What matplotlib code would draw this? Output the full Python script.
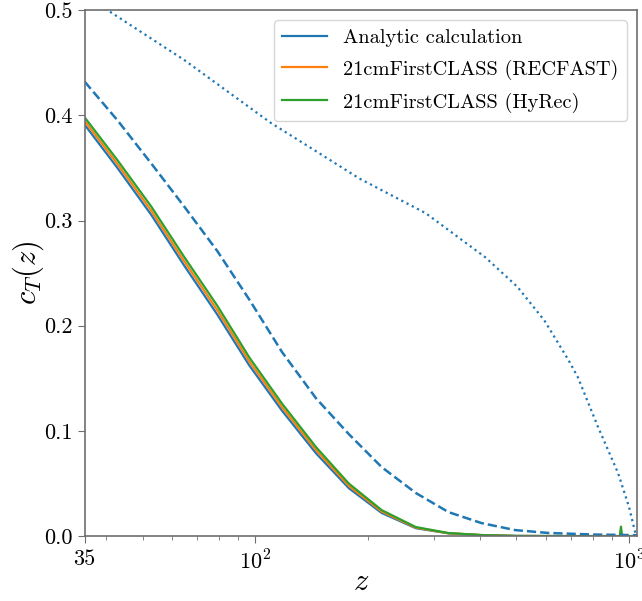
import numpy as np
import matplotlib
matplotlib.use('Agg')
import matplotlib.pyplot as plt
from matplotlib.ticker import FixedLocator, NullFormatter

# LaTeX-like look without a TeX install
plt.rcParams['font.family'] = 'cmr10'
plt.rcParams['mathtext.fontset'] = 'cm'
plt.rcParams['axes.formatter.use_mathtext'] = True

# curves (z, c_T)
z_solid = [35, 42.9, 52.8, 64.7, 79.2, 89, 96.4, 118, 145.5, 178, 218, 269, 329, 403, 500, 700, 1050]
ct_analytic = [0.391, 0.3496, 0.3051, 0.2568, 0.2106, 0.182, 0.1624, 0.1192, 0.0787, 0.0456, 0.022, 0.0075, 0.0026, 0.0009, 0.0001, 0.0, 0.0]
ct_recfast = [0.3945, 0.3533, 0.309, 0.2609, 0.2148, 0.186, 0.1662, 0.1226, 0.0817, 0.0478, 0.0234, 0.0080, 0.0027, 0.001, 0.0001, 0.0, 0.0]

z_hyrec = [35, 42.9, 52.8, 64.7, 79.2, 89, 96.4, 118, 145.5, 178, 218, 269, 329, 403, 500, 700, 945, 952, 959, 1050]
ct_hyrec = [0.398, 0.357, 0.313, 0.265, 0.219, 0.190, 0.170, 0.126, 0.0846, 0.050, 0.0247, 0.0086, 0.0029, 0.001, 0.0002, 0.0, 0.0, 0.009, 0.0, 0.0]

z_dashed = [35, 42.9, 52.8, 64.7, 79.2, 96.4, 118, 145.5, 178, 218, 269, 329, 403, 496, 607, 800, 1000, 1050]
ct_dashed = [0.432, 0.395, 0.354, 0.313, 0.271, 0.225, 0.175, 0.131, 0.097, 0.0656, 0.041, 0.0228, 0.0124, 0.0057, 0.003, 0.0015, 0.001, 0.0008]

z_dotted = [35, 40.3, 64.7, 110, 150, 190, 286, 413, 503, 594, 690, 730, 826, 935, 1000, 1040]
ct_dotted = [0.514, 0.500, 0.4525, 0.393, 0.363, 0.340, 0.307, 0.265, 0.237, 0.205, 0.167, 0.151, 0.104, 0.060, 0.028, 0.003]

xtick_vals = [35, 100, 1000]
xtick_labels = ['35', r'$10^2$', r'$10^3$']
xminor_vals = [40, 50, 60, 70, 80, 90, 200, 300, 400, 500, 600, 700, 800, 900]

fig = plt.figure(figsize=(6.42, 6.01), dpi=100)
ax = fig.add_axes([0.132, 0.108, 0.860, 0.875])

ax.plot(z_solid, ct_analytic, color='tab:blue', lw=1.6, label='Analytic calculation')
ax.plot(z_solid, ct_recfast, color='tab:orange', lw=1.6, label='21cmFirstCLASS (RECFAST)')
ax.plot(z_hyrec, ct_hyrec, color='tab:green', lw=1.6, label='21cmFirstCLASS (HyRec)')
ax.plot(z_dashed, ct_dashed, color='tab:blue', lw=1.8, ls='--')
ax.plot(z_dotted, ct_dotted, color='tab:blue', lw=1.6, ls=':')

ax.set_xscale('log')
ax.set_xlim(35, 1050)
ax.set_ylim(0, 0.5)
ax.xaxis.set_major_locator(FixedLocator(xtick_vals))
ax.set_xticklabels(xtick_labels)
ax.xaxis.set_minor_locator(FixedLocator(xminor_vals))
ax.xaxis.set_minor_formatter(NullFormatter())
ax.set_yticks([0.0, 0.1, 0.2, 0.3, 0.4, 0.5])
ax.set_yticklabels(['0.0', '0.1', '0.2', '0.3', '0.4', '0.5'])

for s in ax.spines.values():
    s.set_color('#6e6e6e')
    s.set_linewidth(1.2)
ax.tick_params(which='both', colors='#6e6e6e', labelcolor='black', labelsize=16)
ax.tick_params(which='major', length=5)
ax.tick_params(which='minor', length=3)
ax.tick_params(axis='x', which='major', pad=5)

ax.set_xlabel(r'$z$', fontsize=22, labelpad=-4)
ax.set_ylabel(r'$c_T(z)$', fontsize=22, labelpad=-1)

ax.legend(loc='upper right', fontsize=14.7, handlelength=2.2, labelspacing=0.62)

plt.savefig('out.png', dpi=100)
